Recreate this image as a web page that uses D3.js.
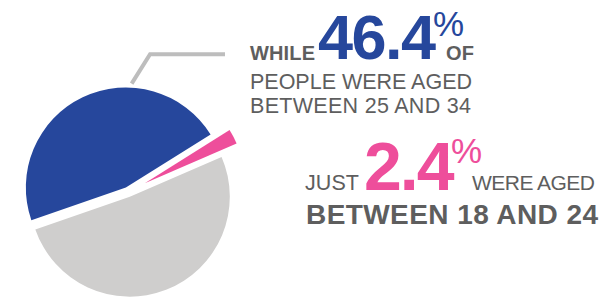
<!DOCTYPE html>
<html>
<head>
<meta charset="utf-8">
<script src="https://cdn.jsdelivr.net/npm/d3@7"></script>
<style>
  html, body { margin: 0; padding: 0; background: #fff; }
  svg { display: block; }
  text { font-family: "Liberation Sans", Arial, Helvetica, sans-serif; }
</style>
</head>
<body>
<svg id="chart" width="611" height="301"></svg>
<script>
// ---- data ----
const categories = ["Aged 25 to 34", "Aged 18 to 24", "Other ages"];
const values = [46.4, 2.4, 51.2];
const highlightValues = ["46.4", "2.4"];

// ---- styling ----
const palette = ["#26479c", "#ee4e9b", "#cfcecd"];
const explodeBy = [5, 19, 5];
const textGrey = "#5e5e5e";

const cx = 128, cy = 192, R = 100;
const svg = d3.select("#chart");

const color = d3.scaleOrdinal(categories, palette);
const startA = 250.9 * Math.PI / 180;
const pie = d3.pie().sort(null).value(d => d.v).startAngle(startA).endAngle(startA + 2 * Math.PI);
const arcs = pie(categories.map((c, i) => ({ c, v: values[i], i })));
const arc = d3.arc().innerRadius(0).outerRadius(R);

const g = svg.append("g").attr("transform", `translate(${cx},${cy})`);
g.selectAll("path").data(arcs).join("path")
  .attr("d", arc)
  .attr("fill", d => color(d.data.c))
  .attr("transform", d => {
    const m = (d.startAngle + d.endAngle) / 2, k = explodeBy[d.data.i];
    return `translate(${Math.sin(m) * k},${-Math.cos(m) * k})`;
  });

// leader line from the blue slice
const blue = arcs[0];
const bm = (blue.startAngle + blue.endAngle) / 2, bk = explodeBy[0];
const ox = Math.sin(bm) * bk, oy = -Math.cos(bm) * bk;
const pol = (r, a) => [ox + Math.sin(a) * r, oy - Math.cos(a) * r];
const a0 = 3.2 * Math.PI / 180, a1 = 10.3 * Math.PI / 180;
const p0 = pol(R + 4, a0), p1 = pol(R + 35.5, a1);
g.append("path")
  .attr("d", d3.line()([p0, p1, [97, p1[1]]]))
  .attr("fill", "none")
  .attr("stroke", "#bdbdbd")
  .attr("stroke-width", 4);

// ---- text ----
const t = svg.append("g");
function label(x, y, size, txt, opts = {}) {
  const el = t.append("text").attr("x", x).attr("y", y).attr("font-size", size)
    .attr("fill", opts.fill || textGrey).text(txt);
  if (opts.bold) el.attr("font-weight", "bold");
  if (opts.ls != null) el.attr("letter-spacing", opts.ls);
  if (opts.len) el.attr("textLength", opts.len).attr("lengthAdjust", "spacing");
  return el;
}
// block 1
label(250, 60, 20, "WHILE", { bold: true, len: 65 });
label(318, 59, 63, highlightValues[0], { bold: true, ls: -1.5, fill: palette[0] });
label(433, 36, 35, "%", { fill: palette[0] });
label(446, 60, 20, "OF", { bold: true, len: 28 });
label(250, 89, 21.5, "PEOPLE WERE AGED", { len: 222 });
label(250, 113, 21.5, "BETWEEN 25 AND 34", { len: 221 });
// block 2
label(305, 190, 21.5, "JUST", { len: 54 });
label(364, 190, 68, highlightValues[1], { bold: true, ls: -2, fill: palette[1] });
label(451, 163, 35, "%", { fill: palette[1] });
label(472, 190, 21, "WERE AGED", { len: 123 });
label(306, 224, 28, "BETWEEN 18 AND 24", { bold: true, len: 292 });
</script>
</body>
</html>
